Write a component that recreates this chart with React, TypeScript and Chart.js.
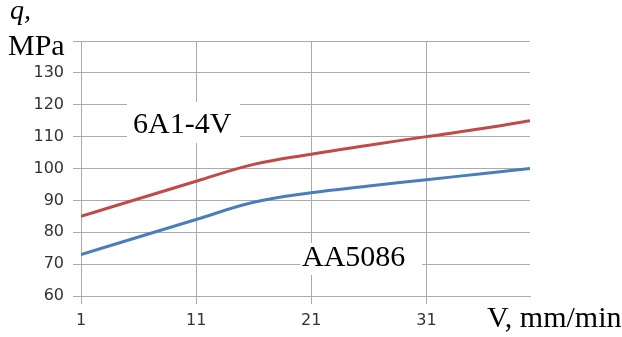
import React, { useEffect, useRef } from "react";
import { Chart, registerables } from "chart.js";

Chart.register(...registerables);

const speeds = [1, 6, 11, 16, 21, 26, 31, 36, 40];
const ti6Al4V = [85, 90.5, 96, 101.3, 104.5, 107.3, 110, 112.6, 115];
const aa5086 = [73, 78.5, 84, 89.4, 92.4, 94.5, 96.5, 98.4, 100];
const xTicks = [1, 11, 21, 31];
const yTicks = [60, 70, 80, 90, 100, 110, 120, 130, 140];
const seriesNames = ["6A1-4V", "AA5086"];

const SERIF = '"Liberation Serif", "Times New Roman", serif';

const annotations = {
  id: "annotations",
  afterDraw(chart: any) {
    const ctx = chart.ctx;
    ctx.save();
    ctx.fillStyle = "#ffffff";
    ctx.fillRect(127, 102, 113, 41);
    ctx.fillRect(300, 243, 122, 32);
    ctx.fillStyle = "#000000";
    ctx.textBaseline = "alphabetic";
    ctx.textAlign = "left";
    ctx.font = `30px ${SERIF}`;
    ctx.fillText(seriesNames[0], 133, 133);
    ctx.fillText(seriesNames[1], 302, 266);
    ctx.fillText("MPa", 8, 55);
    ctx.fillText("V, mm/min", 487, 327);
    ctx.font = `italic 28px ${SERIF}`;
    ctx.fillText("q,", 10, 19);
    ctx.restore();
  },
};

export default function App() {
  const ref = useRef<HTMLCanvasElement>(null);
  useEffect(() => {
    const chart = new Chart(ref.current as HTMLCanvasElement, {
      type: "line",
      data: {
        datasets: [
          {
            label: seriesNames[0],
            data: speeds.map((x, i) => ({ x, y: ti6Al4V[i] })),
            borderColor: "#BE4B48",
            borderWidth: 3,
            pointRadius: 0,
            tension: 0.4,
          },
          {
            label: seriesNames[1],
            data: speeds.map((x, i) => ({ x, y: aa5086[i] })),
            borderColor: "#4A7EBB",
            borderWidth: 3,
            pointRadius: 0,
            tension: 0.4,
          },
        ],
      },
      options: {
        animation: false,
        responsive: false,
        devicePixelRatio: 1,
        layout: { padding: { top: 41, right: 92, left: 0, bottom: 0 } },
        plugins: { legend: { display: false }, tooltip: { enabled: false } },
        scales: {
          x: {
            type: "linear",
            min: 1,
            max: 40,
            afterBuildTicks: (s: any) => {
              s.ticks = xTicks.map((v) => ({ value: v }));
            },
            afterFit: (s: any) => {
              s.height = 41;
            },
            grid: { color: "#ababab", lineWidth: 1, tickLength: 8 },
            border: { color: "#ababab" },
            ticks: {
              color: "#333",
              font: { family: '"DejaVu Sans"', size: 16 },
              padding: 7,
              maxRotation: 0,
            },
          },
          y: {
            min: 60,
            max: 140,
            afterBuildTicks: (s: any) => {
              s.ticks = yTicks.map((v) => ({ value: v }));
            },
            afterFit: (s: any) => {
              s.width = 81;
            },
            grid: { color: "#ababab", lineWidth: 1, tickLength: 8 },
            border: { color: "#ababab" },
            ticks: {
              color: "#333",
              font: { family: '"DejaVu Sans"', size: 16 },
              padding: 9,
              callback: (v: any) => (v === 140 ? "" : String(v)),
            },
          },
        },
      },
      plugins: [annotations],
    } as any);
    return () => chart.destroy();
  }, []);
  return (
    <div style={{ position: "fixed", left: 0, top: 0, width: 622, height: 337, background: "#fff" }}>
      <canvas ref={ref} width={622} height={337} />
    </div>
  );
}
